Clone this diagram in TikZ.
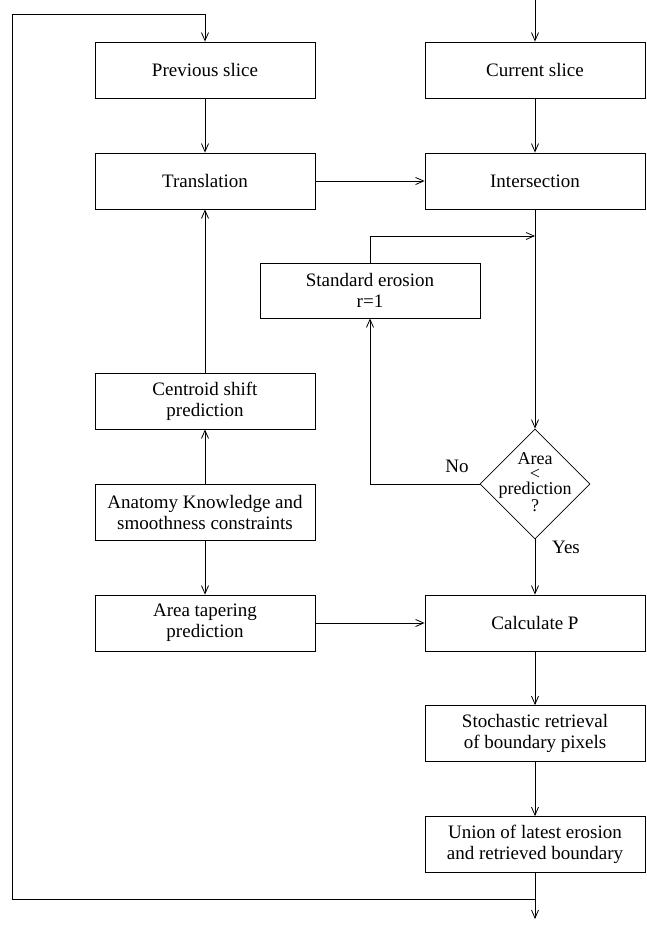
\documentclass[tikz,border=0pt]{standalone}
\usepackage{fontspec}
\setmainfont{Liberation Serif}
\usetikzlibrary{arrows.meta,shapes.geometric}
\begin{document}
\begin{tikzpicture}[x=1pt,y=-1pt,
  box/.style={draw,line width=0.8pt,minimum width=220pt,minimum height=56pt,inner sep=0pt,align=center,font=\fontsize{19}{21}\selectfont},
  arr/.style={line width=0.8pt,-{Straight Barb[length=8pt,width=7pt]}},
  ln/.style={line width=0.8pt},
  lab/.style={font=\fontsize{19}{21}\selectfont}]
\useasboundingbox (0,0) rectangle (647,926);
\node[box] (prev) at (205,70) {Previous slice};
\node[box] (trans) at (205,181) {Translation};
\node[box] (cur) at (535,70) {Current slice};
\node[box] (inter) at (535,181) {Intersection};
\node[box,minimum height=55pt] (ero) at (370,290.5) {Standard erosion\\r=1};
\node[box] (cent) at (205,401) {Centroid shift\\prediction};
\node[box] (anat) at (205,512) {Anatomy Knowledge and\\smoothness constraints};
\node[box] (taper) at (205,623) {Area tapering\\prediction};
\node[box] (calc) at (535,623) {Calculate P};
\node[box] (stoch) at (535,733.5) {Stochastic retrieval\\of boundary pixels};
\node[box] (union) at (535,844.5) {Union of latest erosion\\and retrieved boundary};
\node[diamond,draw,line width=0.8pt,minimum width=110pt,minimum height=110pt,inner sep=0pt] (dec) at (535,484) {};
\node[align=center,inner sep=0pt,font=\fontsize{18}{15}\selectfont] (dectext) at (535,482) {Area\\<\\prediction\\?};
\node[lab] (no) at (457,466) {No};
\node[lab] (yes) at (566,547) {Yes};
\coordinate (in) at (535,0);
\coordinate (j1) at (535,236);
\coordinate (out) at (535,919);
\coordinate (lp) at (535,899);
\coordinate (lc1) at (12,899);
\coordinate (lc2) at (12,14);
\draw[arr] (in) -- (cur.north);
\draw[arr] (cur) -- (inter);
\draw[arr] (prev) -- (trans);
\draw[arr] (trans) -- (inter);
\draw[arr] (inter.south) -- (dec.north);
\draw[arr] (ero.north) |- (j1);
\draw[arr] (dec.west) -| (ero.south);
\draw[arr] (dec.south) -- (calc.north);
\draw[arr] (cent) -- (trans);
\draw[arr] (anat) -- (cent);
\draw[arr] (anat) -- (taper);
\draw[arr] (taper) -- (calc);
\draw[arr] (calc) -- (stoch);
\draw[arr] (stoch) -- (union);
\draw[arr] (union.south) -- (out);
\draw[arr] (lp) -- (lc1) -- (lc2) -| (prev.north);
\end{tikzpicture}
\end{document}
